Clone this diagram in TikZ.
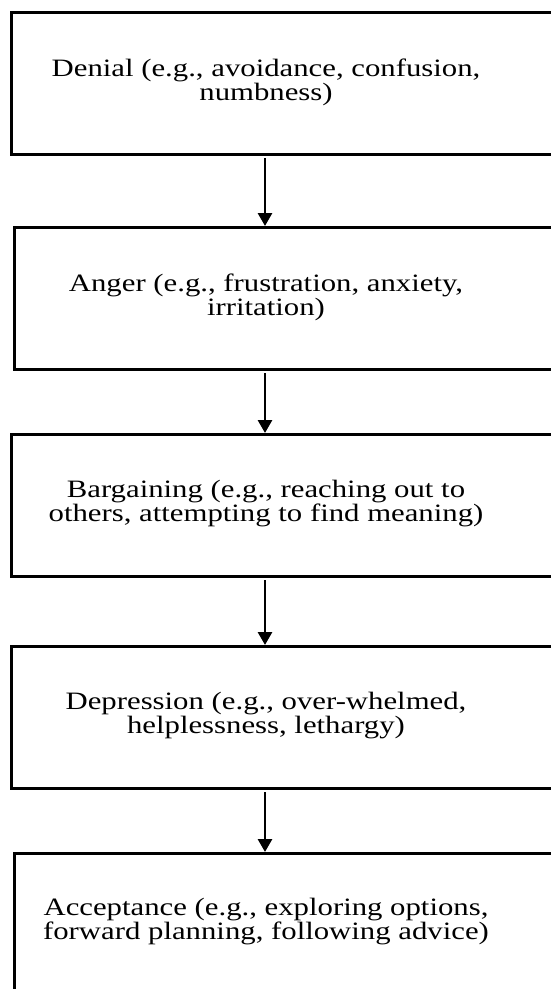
\documentclass[tikz,border=0pt]{standalone}
\usepackage{fontspec}
\setmainfont{Liberation Serif}
\newfontfamily\stagefont{Liberation Serif}[FakeStretch=1.23]
\usetikzlibrary{arrows.meta}
\begin{document}
\begin{tikzpicture}[x=1pt,y=-1pt,
  stagebox/.style={draw, line width=3.3pt, minimum width=565pt, minimum height=142pt, anchor=north west, inner sep=0pt},
  stagetext/.style={align=center, inner sep=0pt, font=\stagefont\fontsize{25}{24}\selectfont},
  flow/.style={-{Triangle[length=13pt,width=14pt]}, line width=2.8pt, shorten <=2pt}]
\useasboundingbox (0,0) rectangle (551,989);
\clip (0,0) rectangle (551,989);
\fill[white] (0,0) rectangle (551,989);
\coordinate (ax) at (265,0);
\node[stagebox] (b1) at (10,11) {};
\node[stagebox] (b2) at (13,226) {};
\node[stagebox] (b3) at (10,433) {};
\node[stagebox] (b4) at (10,645) {};
\node[stagebox] (b5) at (13,852) {};
\node[stagetext] (t1) at (266,82) {Denial (e.g., avoidance, confusion,\\numbness)};
\node[stagetext] (t2) at (266,297) {Anger (e.g., frustration, anxiety,\\irritation)};
\node[stagetext] (t3) at (266,504) {Bargaining (e.g., reaching out to\\others, attempting to find meaning)};
\node[stagetext] (t4) at (266,716) {Depression (e.g., over-whelmed,\\helplessness, lethargy)};
\node[stagetext] (t5) at (266,922) {Acceptance (e.g., exploring options,\\forward planning, following advice)};
\draw[flow] (b1.south -| ax) -- (b2.north -| ax);
\draw[flow] (b2.south -| ax) -- (b3.north -| ax);
\draw[flow] (b3.south -| ax) -- (b4.north -| ax);
\draw[flow] (b4.south -| ax) -- (b5.north -| ax);
\end{tikzpicture}
\end{document}
